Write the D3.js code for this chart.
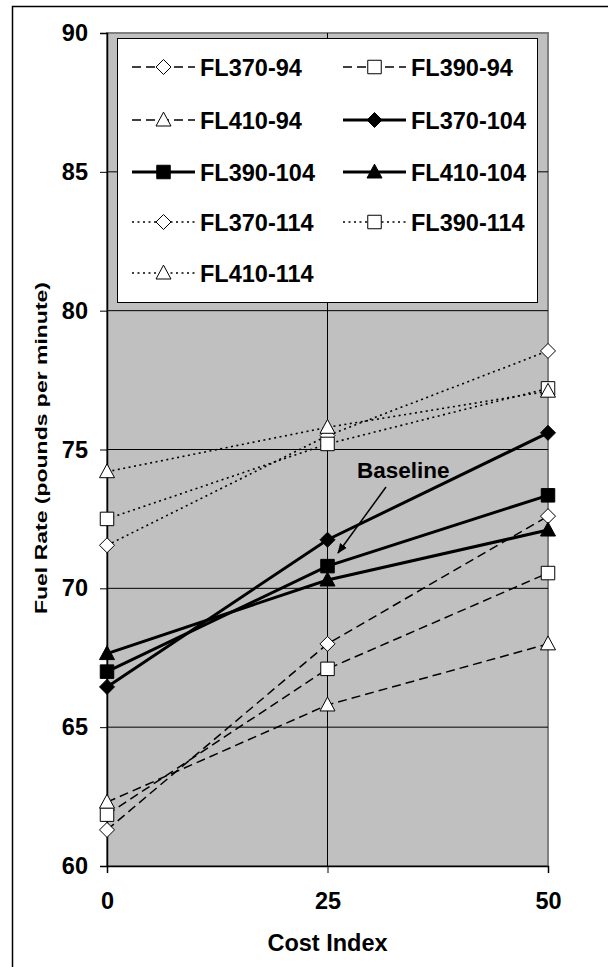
<!DOCTYPE html>
<html>
<head>
    <meta charset="utf-8">
    <title>Fuel Rate vs Cost Index</title>
    <script src="https://d3js.org/d3.v7.min.js"></script>
    <style>
        body { margin: 0; background: #fff; }
        text { font-family: Arial, "Liberation Sans", sans-serif; font-weight: bold; fill: #000; }
    </style>
</head>
<body>
<svg width="608" height="967"></svg>
<script>
    const width = 608;
    const height = 967;

    // data
    const costIndex = [0, 25, 50];
    const yTicks = [60, 65, 70, 75, 80, 85, 90];

    const fl370_94 = [61.3, 68.0, 72.6];
    const fl390_94 = [61.85, 67.1, 70.55];
    const fl410_94 = [62.3, 65.8, 68.0];
    const fl370_104 = [66.45, 71.75, 75.6];
    const fl390_104 = [67.0, 70.8, 73.35];
    const fl410_104 = [67.65, 70.3, 72.1];
    const fl370_114 = [71.55, 75.5, 78.55];
    const fl390_114 = [72.5, 75.2, 77.2];
    const fl410_114 = [74.2, 75.8, 77.1];

    const seriesNames = ["FL370-94", "FL390-94", "FL410-94", "FL370-104", "FL390-104",
        "FL410-104", "FL370-114", "FL390-114", "FL410-114"];
    const seriesValues = [fl370_94, fl390_94, fl410_94, fl370_104, fl390_104,
        fl410_104, fl370_114, fl390_114, fl410_114];
    const markerShapes = ["diamond", "square", "triangle", "diamond", "square",
        "triangle", "diamond", "square", "triangle"];

    // line style by the speed group (94 / 104 / 114)
    function styleFor(name) {
        if (name.endsWith("-94")) return { width: 1.5, dash: "9,5", filled: false };
        if (name.endsWith("-104")) return { width: 3, dash: null, filled: true };
        return { width: 1.6, dash: "2,3.5", filled: false };
    }

    const plot = { left: 107, right: 548, top: 33, bottom: 866 };

    const x = d3.scaleLinear().domain([0, 50]).range([plot.left, plot.right]);
    const y = d3.scaleLinear().domain([60, 90]).range([plot.bottom, plot.top]);

    const svg = d3.select("svg");

    // outer frame
    svg.append("rect")
        .attr("x", 12.5).attr("y", 6.5)
        .attr("width", 620).attr("height", 980)
        .attr("fill", "none").attr("stroke", "#000").attr("stroke-width", 1.5);

    // plot background
    svg.append("rect")
        .attr("x", plot.left).attr("y", plot.top)
        .attr("width", plot.right - plot.left).attr("height", plot.bottom - plot.top)
        .attr("fill", "#c0c0c0")
        .attr("stroke", "#808080").attr("stroke-width", 2);

    // gridlines
    svg.append("g").selectAll("line")
        .data(yTicks.slice(1, -1))
        .join("line")
        .attr("x1", plot.left).attr("x2", plot.right)
        .attr("y1", d => y(d)).attr("y2", d => y(d))
        .attr("stroke", "#000").attr("stroke-width", 1);

    svg.append("line")
        .attr("x1", x(25)).attr("x2", x(25))
        .attr("y1", plot.top).attr("y2", plot.bottom)
        .attr("stroke", "#000").attr("stroke-width", 1);

    // axes
    const yAxis = svg.append("g")
        .attr("transform", `translate(${plot.left},0)`)
        .call(d3.axisLeft(y).tickValues(yTicks).tickSize(7).tickPadding(12));
    const xAxis = svg.append("g")
        .attr("transform", `translate(0,${plot.bottom})`)
        .call(d3.axisBottom(x).tickValues(costIndex).tickSize(7).tickPadding(19));

    [yAxis, xAxis].forEach(a => {
        a.select(".domain").attr("stroke", "#000").attr("stroke-width", 1.5);
        a.selectAll(".tick line").attr("stroke", "#000");
        a.selectAll(".tick text")
            .attr("font-family", "Arial, 'Liberation Sans', sans-serif")
            .attr("font-weight", "bold")
            .attr("font-size", 23.5);
    });

    // axis titles
    svg.append("text")
        .attr("x", x(25)).attr("y", 951)
        .attr("text-anchor", "middle")
        .attr("font-size", 23.5)
        .text("Cost Index");

    svg.append("text")
        .attr("transform", "translate(47,448) rotate(-90)")
        .attr("text-anchor", "middle")
        .attr("font-size", 17)
        .attr("textLength", 332)
        .attr("lengthAdjust", "spacingAndGlyphs")
        .text("Fuel Rate (pounds per minute)");

    // marker paths
    function markerPath(shape, s) {
        if (shape === "diamond") return `M0,${-s}L${s},0L0,${s}L${-s},0Z`;
        if (shape === "square") return `M${-s * 0.9},${-s * 0.9}H${s * 0.9}V${s * 0.9}H${-s * 0.9}Z`;
        return `M0,${-s * 1.05}L${s},${s * 0.8}H${-s}Z`;
    }

    const line = d3.line()
        .x((d, i) => x(costIndex[i]))
        .y(d => y(d));

    const seriesG = svg.append("g");
    seriesNames.forEach((name, k) => {
        const st = styleFor(name);
        seriesG.append("path")
            .datum(seriesValues[k])
            .attr("d", line)
            .attr("fill", "none")
            .attr("stroke", "#000")
            .attr("stroke-width", st.width)
            .attr("stroke-dasharray", st.dash);
    });
    seriesNames.forEach((name, k) => {
        const st = styleFor(name);
        seriesG.append("g").selectAll("path")
            .data(seriesValues[k])
            .join("path")
            .attr("transform", (d, i) => `translate(${x(costIndex[i])},${y(d)})`)
            .attr("d", markerPath(markerShapes[k], 7.5))
            .attr("fill", st.filled ? "#000" : "#fff")
            .attr("stroke", "#000")
            .attr("stroke-width", 1);
    });

    // baseline annotation
    svg.append("defs").append("marker")
        .attr("id", "arrow")
        .attr("viewBox", "0 0 10 10")
        .attr("refX", 9).attr("refY", 5)
        .attr("markerWidth", 7).attr("markerHeight", 7)
        .attr("orient", "auto")
        .append("path")
        .attr("d", "M0,1L10,5L0,9Z")
        .attr("fill", "#000");

    svg.append("text")
        .attr("x", 357).attr("y", 478)
        .attr("font-size", 22.5)
        .text("Baseline");

    svg.append("line")
        .attr("x1", 386).attr("y1", 487)
        .attr("x2", 338).attr("y2", 553)
        .attr("stroke", "#000").attr("stroke-width", 1.5)
        .attr("marker-end", "url(#arrow)");

    // legend
    const legend = svg.append("g");
    legend.append("rect")
        .attr("x", 117.5).attr("y", 38.5)
        .attr("width", 420).attr("height", 264)
        .attr("fill", "#fff").attr("stroke", "#000").attr("stroke-width", 1);

    const colX = [132, 343];
    const rowY = [67, 120, 172, 222, 273];

    seriesNames.forEach((name, k) => {
        const st = styleFor(name);
        const lx = colX[k % 2];
        const ly = rowY[Math.floor(k / 2)];
        const g = legend.append("g").attr("transform", `translate(${lx},${ly})`);
        g.append("line")
            .attr("x1", 0).attr("x2", 63)
            .attr("y1", 0).attr("y2", 0)
            .attr("stroke", "#000")
            .attr("stroke-width", st.width)
            .attr("stroke-dasharray", st.dash);
        g.append("path")
            .attr("transform", "translate(31.5,0)")
            .attr("d", markerPath(markerShapes[k], 7.5))
            .attr("fill", st.filled ? "#000" : "#fff")
            .attr("stroke", "#000")
            .attr("stroke-width", 1);
        g.append("text")
            .attr("x", 68).attr("y", 8.5)
            .attr("font-size", 23.5)
            .text(name);
    });
</script>
</body>
</html>
